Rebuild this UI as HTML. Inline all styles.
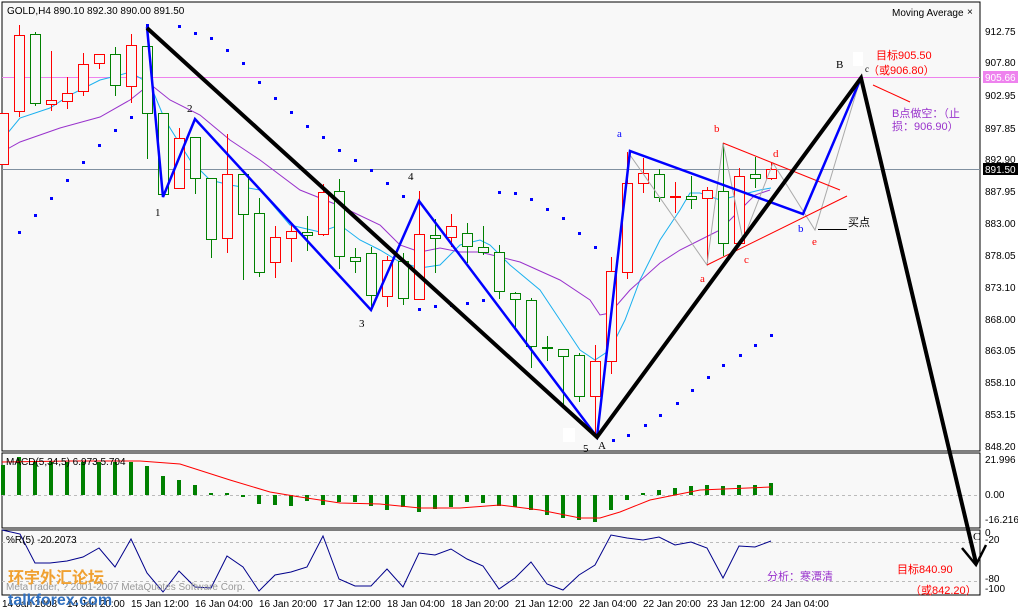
<!DOCTYPE html>
<html><head><meta charset="utf-8"><style>
html,body{margin:0;padding:0;background:#fff;}
svg{display:block;font-family:"Liberation Sans","Noto Sans CJK SC",sans-serif;}
</style></head><body>
<svg width="1018" height="611" viewBox="0 0 1018 611" xmlns="http://www.w3.org/2000/svg">
<rect x="0" y="0" width="1018" height="611" fill="#fff"/>
<rect x="2" y="2" width="978" height="449" fill="#f8f8f8" stroke="#000"/>
<rect x="2" y="453" width="978" height="75" fill="#f8f8f8" stroke="#000"/>
<rect x="2" y="530" width="978" height="65" fill="#f8f8f8" stroke="#000"/>
<g shape-rendering="crispEdges">
<line x1="2" y1="77.5" x2="980" y2="77.5" stroke="#ee82ee"/>
<line x1="2" y1="169.5" x2="980" y2="169.5" stroke="#8090a0"/>
<line x1="2" y1="495.5" x2="980" y2="495.5" stroke="#bbb" stroke-dasharray="3,3"/>
<line x1="2" y1="542.5" x2="980" y2="542.5" stroke="#bbb" stroke-dasharray="3,3"/>
<line x1="2" y1="581.5" x2="980" y2="581.5" stroke="#bbb" stroke-dasharray="3,3"/>
</g>
<!-- MAs -->
<polyline fill="none" stroke="#1ab0ef" stroke-width="1" points="2,140 20,118 50,108 70,95 100,80 120,75 130,72 150,84 165,120 190,160 210,180 230,185 260,190 290,225 320,232 340,225 360,240 380,250 400,262 420,268 440,265 460,245 480,240 490,245 510,265 540,290 560,320 580,350 595,360 610,350 625,320 640,280 660,240 680,210 690,193 700,193 720,200 740,195 760,190 771,188"/>
<polyline fill="none" stroke="#9932cc" stroke-width="1" points="2,152 20,142 60,128 100,117 130,100 150,84 170,100 200,115 230,140 260,160 300,190 340,206 380,225 400,245 420,252 440,248 460,252 480,252 520,262 560,280 590,300 600,315 610,313 630,290 660,263 680,250 700,240 720,230 740,210 755,195 770,190"/>
<!-- candles -->
<g stroke-width="1" fill="#f8f8f8" shape-rendering="crispEdges">
<g stroke="#f00">
<line x1="3.5" y1="113" x2="3.5" y2="164"/><rect x="-1.5" y="113.5" width="10" height="51"/>
<line x1="19.5" y1="25" x2="19.5" y2="117"/><rect x="14.5" y="35.5" width="10" height="76"/>
<line x1="51.5" y1="51" x2="51.5" y2="111"/><rect x="46.5" y="100.5" width="10" height="4"/>
<line x1="67.5" y1="77" x2="67.5" y2="109"/><rect x="62.5" y="93.5" width="10" height="8"/>
<line x1="83.5" y1="53" x2="83.5" y2="96"/><rect x="78.5" y="64.5" width="10" height="27"/>
<line x1="99.5" y1="54" x2="99.5" y2="69"/><rect x="94.5" y="54.5" width="10" height="9"/>
<line x1="131.5" y1="34" x2="131.5" y2="103"/><rect x="126.5" y="45.5" width="10" height="41"/>
<line x1="179.5" y1="128" x2="179.5" y2="189"/><rect x="174.5" y="138.5" width="10" height="50"/>
<line x1="227.5" y1="134" x2="227.5" y2="253"/><rect x="222.5" y="174.5" width="10" height="64"/>
<line x1="275.5" y1="226" x2="275.5" y2="278"/><rect x="270.5" y="237.5" width="10" height="25"/>
<line x1="291.5" y1="223" x2="291.5" y2="262"/><rect x="286.5" y="231.5" width="10" height="7"/>
<line x1="323.5" y1="184" x2="323.5" y2="236"/><rect x="318.5" y="192.5" width="10" height="42"/>
<line x1="387.5" y1="256" x2="387.5" y2="307"/><rect x="382.5" y="260.5" width="10" height="36"/>
<line x1="419.5" y1="191" x2="419.5" y2="299"/><rect x="414.5" y="234.5" width="10" height="65"/>
<line x1="451.5" y1="214" x2="451.5" y2="247"/><rect x="446.5" y="226.5" width="10" height="11"/>
<line x1="595.5" y1="345" x2="595.5" y2="437"/><rect x="590.5" y="361.5" width="10" height="35"/>
<line x1="611.5" y1="257" x2="611.5" y2="374"/><rect x="606.5" y="271.5" width="10" height="90"/>
<line x1="627.5" y1="152" x2="627.5" y2="279"/><rect x="622.5" y="183.5" width="10" height="89"/>
<line x1="643.5" y1="158" x2="643.5" y2="193"/><rect x="638.5" y="173.5" width="10" height="10"/>
<line x1="675.5" y1="182" x2="675.5" y2="213"/><rect x="670.5" y="196.5" width="10" height="1"/>
<line x1="707.5" y1="187" x2="707.5" y2="263"/><rect x="702.5" y="190.5" width="10" height="8"/>
<line x1="739.5" y1="168" x2="739.5" y2="245"/><rect x="734.5" y="176.5" width="10" height="67"/>
<line x1="771.5" y1="163" x2="771.5" y2="180"/><rect x="766.5" y="169.5" width="10" height="9"/>
</g>
<g stroke="#008000">
<line x1="35.5" y1="32" x2="35.5" y2="106"/><rect x="30.5" y="34.5" width="10" height="69"/>
<line x1="115.5" y1="47" x2="115.5" y2="96"/><rect x="110.5" y="54.5" width="10" height="31"/>
<line x1="147.5" y1="46" x2="147.5" y2="159"/><rect x="142.5" y="46.5" width="10" height="67"/>
<line x1="163.5" y1="113" x2="163.5" y2="197"/><rect x="158.5" y="113.5" width="10" height="81"/>
<line x1="195.5" y1="137" x2="195.5" y2="194"/><rect x="190.5" y="137.5" width="10" height="41"/>
<line x1="211.5" y1="178" x2="211.5" y2="258"/><rect x="206.5" y="178.5" width="10" height="61"/>
<line x1="243.5" y1="174" x2="243.5" y2="280"/><rect x="238.5" y="174.5" width="10" height="40"/>
<line x1="259.5" y1="198" x2="259.5" y2="277"/><rect x="254.5" y="213.5" width="10" height="59"/>
<line x1="307.5" y1="216" x2="307.5" y2="251"/><rect x="302.5" y="232.5" width="10" height="3"/>
<line x1="339.5" y1="179" x2="339.5" y2="269"/><rect x="334.5" y="191.5" width="10" height="65"/>
<line x1="355.5" y1="248" x2="355.5" y2="273"/><rect x="350.5" y="257.5" width="10" height="4"/>
<line x1="371.5" y1="247" x2="371.5" y2="307"/><rect x="366.5" y="253.5" width="10" height="42"/>
<line x1="403.5" y1="253" x2="403.5" y2="305"/><rect x="398.5" y="261.5" width="10" height="37"/>
<line x1="435.5" y1="219" x2="435.5" y2="273"/><rect x="430.5" y="235.5" width="10" height="3"/>
<line x1="467.5" y1="223" x2="467.5" y2="263"/><rect x="462.5" y="233.5" width="10" height="13"/>
<line x1="483.5" y1="226" x2="483.5" y2="255"/><rect x="478.5" y="247.5" width="10" height="5"/>
<line x1="499.5" y1="245" x2="499.5" y2="299"/><rect x="494.5" y="252.5" width="10" height="39"/>
<line x1="515.5" y1="292" x2="515.5" y2="328"/><rect x="510.5" y="293.5" width="10" height="6"/>
<line x1="531.5" y1="298" x2="531.5" y2="368"/><rect x="526.5" y="300.5" width="10" height="46"/>
<line x1="547.5" y1="336" x2="547.5" y2="361"/><rect x="542.5" y="347.5" width="10" height="1"/>
<line x1="563.5" y1="349" x2="563.5" y2="405"/><rect x="558.5" y="349.5" width="10" height="7"/>
<line x1="579.5" y1="353" x2="579.5" y2="402"/><rect x="574.5" y="355.5" width="10" height="41"/>
<line x1="659.5" y1="169" x2="659.5" y2="202"/><rect x="654.5" y="174.5" width="10" height="23"/>
<line x1="691.5" y1="176" x2="691.5" y2="209"/><rect x="686.5" y="196.5" width="10" height="3"/>
<line x1="723.5" y1="143" x2="723.5" y2="256"/><rect x="718.5" y="191.5" width="10" height="52"/>
<line x1="755.5" y1="157" x2="755.5" y2="188"/><rect x="750.5" y="174.5" width="10" height="4"/>
</g>
</g>
<!-- SAR dots -->
<g fill="#00f">
<rect x="18" y="231" width="3" height="3"/><rect x="34" y="214" width="3" height="3"/><rect x="50" y="197" width="3" height="3"/>
<rect x="66" y="179" width="3" height="3"/><rect x="82" y="161" width="3" height="3"/><rect x="98" y="144" width="3" height="3"/><rect x="114" y="129" width="3" height="3"/><rect x="130" y="116" width="3" height="3"/>
<rect x="146" y="24" width="3" height="3"/><rect x="178" y="25" width="3" height="3"/><rect x="194" y="32" width="3" height="3"/><rect x="210" y="37" width="3" height="3"/><rect x="226" y="49" width="3" height="3"/><rect x="242" y="62" width="3" height="3"/><rect x="258" y="81" width="3" height="3"/><rect x="274" y="97" width="3" height="3"/><rect x="290" y="111" width="3" height="3"/><rect x="306" y="125" width="3" height="3"/><rect x="322" y="136" width="3" height="3"/><rect x="338" y="149" width="3" height="3"/><rect x="354" y="159" width="3" height="3"/><rect x="370" y="169" width="3" height="3"/><rect x="386" y="182" width="3" height="3"/><rect x="402" y="195" width="3" height="3"/>
<rect x="418" y="308" width="3" height="3"/><rect x="434" y="305" width="3" height="3"/><rect x="450" y="304" width="3" height="3"/><rect x="466" y="302" width="3" height="3"/><rect x="482" y="299" width="3" height="3"/>
<rect x="498" y="191" width="3" height="3"/><rect x="514" y="192" width="3" height="3"/><rect x="530" y="198" width="3" height="3"/><rect x="546" y="208" width="3" height="3"/><rect x="562" y="217" width="3" height="3"/><rect x="578" y="232" width="3" height="3"/><rect x="594" y="246" width="3" height="3"/>
<rect x="612" y="439" width="3" height="3"/><rect x="627" y="434" width="3" height="3"/><rect x="644" y="424" width="3" height="3"/><rect x="659" y="414" width="3" height="3"/><rect x="676" y="402" width="3" height="3"/><rect x="691" y="389" width="3" height="3"/><rect x="707" y="376" width="3" height="3"/><rect x="722" y="364" width="3" height="3"/><rect x="739" y="354" width="3" height="3"/><rect x="754" y="344" width="3" height="3"/><rect x="770" y="334" width="3" height="3"/>
</g>
<!-- pattern lines -->
<polyline fill="none" stroke="#aaa" stroke-width="1" points="630,155 707,265 723,143 743,240 773,163 815,230 860,80"/>
<line x1="723" y1="143" x2="840" y2="190" stroke="#f00"/>
<line x1="707" y1="265" x2="847" y2="196" stroke="#f00"/>
<line x1="873" y1="85" x2="910" y2="102" stroke="#f00"/>
<polyline fill="none" stroke="#00f" stroke-width="2.5" points="147,27 163,197 195,119 371,310 419,201 597,437 630,151 803,214 861,78"/>
<polyline fill="none" stroke="#000" stroke-width="4" points="147,28 597,437 861,78 976,563"/>
<polyline fill="none" stroke="#000" stroke-width="2.5" points="962,548 976,565 986,545"/>
<line x1="818" y1="229.5" x2="847" y2="229.5" stroke="#000"/>
<rect x="563" y="428" width="12" height="14" fill="#fff"/>
<rect x="853" y="52" width="10" height="14" fill="#fff"/>
<!-- MACD -->
<g fill="#008000">
<rect x="1" y="465" width="4" height="30"/><rect x="17" y="457" width="4" height="38"/><rect x="33" y="462" width="4" height="33"/><rect x="49" y="462" width="4" height="33"/><rect x="65" y="462" width="4" height="33"/><rect x="81" y="462" width="4" height="33"/><rect x="97" y="462" width="4" height="33"/><rect x="113" y="462" width="4" height="33"/><rect x="129" y="462" width="4" height="33"/><rect x="145" y="466" width="4" height="29"/><rect x="161" y="476" width="4" height="19"/><rect x="177" y="480" width="4" height="15"/><rect x="193" y="485" width="4" height="10"/><rect x="209" y="493" width="4" height="2"/><rect x="225" y="493" width="4" height="2"/><rect x="241" y="495" width="4" height="2"/>
<rect x="257" y="495" width="4" height="9"/><rect x="273" y="495" width="4" height="10"/><rect x="289" y="495" width="4" height="11"/><rect x="305" y="495" width="4" height="6"/><rect x="321" y="495" width="4" height="10"/><rect x="337" y="495" width="4" height="7"/><rect x="353" y="495" width="4" height="7"/><rect x="369" y="495" width="4" height="11"/><rect x="385" y="495" width="4" height="15"/><rect x="401" y="495" width="4" height="12"/><rect x="417" y="495" width="4" height="17"/><rect x="433" y="495" width="4" height="14"/><rect x="449" y="495" width="4" height="12"/><rect x="465" y="495" width="4" height="7"/><rect x="481" y="495" width="4" height="8"/><rect x="497" y="495" width="4" height="11"/><rect x="513" y="495" width="4" height="12"/><rect x="529" y="495" width="4" height="15"/><rect x="545" y="495" width="4" height="20"/><rect x="561" y="495" width="4" height="23"/><rect x="577" y="495" width="4" height="25"/><rect x="593" y="495" width="4" height="27"/><rect x="609" y="495" width="4" height="15"/><rect x="625" y="495" width="4" height="5"/>
<rect x="641" y="493" width="4" height="2"/><rect x="657" y="490" width="4" height="5"/><rect x="673" y="488" width="4" height="7"/><rect x="689" y="486" width="4" height="9"/><rect x="705" y="485" width="4" height="10"/><rect x="721" y="486" width="4" height="9"/><rect x="737" y="485" width="4" height="10"/><rect x="753" y="485" width="4" height="10"/><rect x="769" y="483" width="4" height="12"/>
</g>
<polyline fill="none" stroke="#f00" points="2,462 70,461 140,461 180,464 230,480 270,492 300,497 340,503 380,504 420,508 460,508 500,505 540,510 580,518 600,518 620,512 650,500 700,490 771,487"/>
<!-- %R -->
<polyline fill="none" stroke="#00008b" points="2,530 20,534 35,563 50,563 67,561 83,557 99,548 115,567 131,539 147,573 163,592 179,571 195,587 211,588 227,556 243,567 259,591 275,575 291,572 307,567 323,536 339,579 355,586 371,586 387,569 403,587 419,553 435,555 451,549 467,559 483,566 499,589 515,578 531,562 547,584 563,590 579,575 595,565 611,535 627,538 643,540 659,537 675,545 691,542 707,548 723,578 739,546 755,547 771,541"/>
<!-- text -->
<g font-size="10" fill="#000">
<text x="7" y="14">GOLD,H4  890.10 892.30 890.00 891.50</text>
<text x="892" y="16">Moving Average</text>
<text x="967" y="15">×</text>
<text x="6" y="465">MACD(5,34,5) 6.973 5.704</text>
<text x="6" y="543">%R(5) -20.2073</text>
<text x="6" y="590" fill="#999">MetaTrader, ? 2001-2007 MetaQuotes Software Corp.</text>
</g>
<g font-size="10" fill="#000">
<text x="985" y="35">912.75</text><text x="985" y="66">907.80</text><text x="985" y="99">902.95</text><text x="985" y="132">897.85</text><text x="985" y="163">892.90</text><text x="985" y="195">887.95</text><text x="985" y="227">883.00</text><text x="985" y="259">878.05</text><text x="985" y="291">873.10</text><text x="985" y="323">868.00</text><text x="985" y="354">863.05</text><text x="985" y="386">858.10</text><text x="985" y="418">853.15</text><text x="985" y="450">848.20</text>
<text x="985" y="463">21.996</text><text x="985" y="498">0.00</text><text x="985" y="523">-16.216</text>
<text x="985" y="536">0</text><text x="985" y="543">-20</text><text x="985" y="582">-80</text><text x="985" y="592">-100</text>
</g>
<rect x="983" y="71" width="35" height="12" fill="#ee82ee"/><text x="985" y="81" font-size="10" fill="#fff">905.66</text>
<rect x="983" y="163" width="35" height="12" fill="#000"/><text x="985" y="173" font-size="10" fill="#fff">891.50</text>
<g font-size="10" fill="#000">
<text x="2" y="607">14 Jan 2008</text><text x="67" y="607">14 Jan 20:00</text><text x="131" y="607">15 Jan 12:00</text><text x="195" y="607">16 Jan 04:00</text><text x="259" y="607">16 Jan 20:00</text><text x="323" y="607">17 Jan 12:00</text><text x="387" y="607">18 Jan 04:00</text><text x="451" y="607">18 Jan 20:00</text><text x="515" y="607">21 Jan 12:00</text><text x="579" y="607">22 Jan 04:00</text><text x="643" y="607">22 Jan 20:00</text><text x="707" y="607">23 Jan 12:00</text><text x="771" y="607">24 Jan 04:00</text>
</g>
<g font-family="Liberation Serif, serif" font-size="11" fill="#000">
<text x="155" y="216">1</text><text x="187" y="112">2</text><text x="359" y="327">3</text><text x="408" y="180">4</text><text x="583" y="452">5</text><text x="598" y="449">A</text><text x="836" y="68">B</text><text x="865" y="72" font-size="9">c</text><text x="973" y="540">C</text>
<text x="617" y="137" fill="#00f">a</text><text x="798" y="232" fill="#00f">b</text>
<text x="714" y="132" fill="#f00">b</text><text x="773" y="157" fill="#f00">d</text><text x="700" y="282" fill="#f00">a</text><text x="744" y="263" fill="#f00">c</text><text x="812" y="245" fill="#f00">e</text>
</g>
<g font-size="11">
<text x="876" y="59" fill="#f00">目标905.50</text>
<text x="868" y="74" fill="#f00">（或906.80）</text>
<text x="892" y="117" fill="#9932cc">B点做空：（止</text>
<text x="892" y="130" fill="#9932cc">损：906.90）</text>
<text x="848" y="226" fill="#000">买点</text>
<text x="767" y="580" fill="#9932cc">分析：寒潭清</text>
<text x="897" y="573" fill="#f00">目标840.90</text>
<text x="910" y="594" fill="#f00">（或842.20）</text>
<text x="8" y="583" font-size="16" font-weight="bold" fill="#f0a030">环宇外汇论坛</text>
<text x="8" y="605" font-size="16" font-weight="bold" fill="#3070c0">talkforex.com</text>
</g>
</svg>
</body></html>
